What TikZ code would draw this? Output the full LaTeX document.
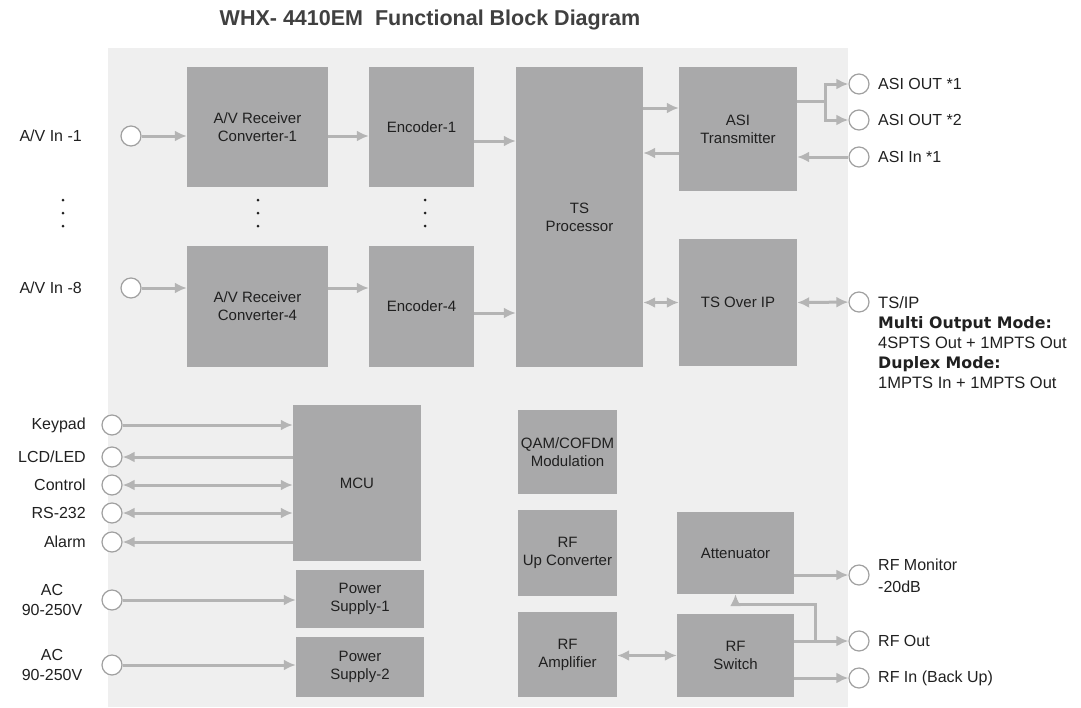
\documentclass[tikz,border=0pt]{standalone}
\usepackage{fontspec}
\setmainfont{Liberation Sans}
\newfontfamily\heavyfont{DejaVu Sans}
\usetikzlibrary{arrows.meta,calc}
\definecolor{panel}{HTML}{EFEFEF}
\definecolor{blkfill}{HTML}{A9A9AA}
\definecolor{linec}{HTML}{B4B4B4}
\definecolor{txt}{HTML}{202020}
\definecolor{titlec}{HTML}{404040}
\definecolor{circ}{HTML}{A0A0A0}
\begin{document}
\begin{tikzpicture}[x=1pt,y=-1pt,
 blk/.style={fill=blkfill, inner sep=0, align=center, font=\fontsize{15}{18}\selectfont, text=txt},
 port/.style={circle, draw=circ, fill=white, line width=1.2pt, minimum size=20pt, inner sep=0},
 arr/.style={draw=linec, line width=3pt, -{Latex[length=12pt,width=11pt]}},
 darr/.style={draw=linec, line width=3pt, {Latex[length=12pt,width=11pt]}-{Latex[length=12pt,width=11pt]}},
 lbl/.style={font=\fontsize{16}{20}\selectfont, text=txt, inner sep=0},
]
\useasboundingbox (0,0) rectangle (1081,707);
\fill[panel] (108,48) rectangle (848,707);

\node[font=\bfseries\fontsize{21.5}{24}\selectfont, text=titlec] (title) at (430,20) {WHX- 4410EM\ \ Functional Block Diagram};

% blocks
\node[blk, minimum width=141pt, minimum height=120pt] (avr1) at (257.5,127) {A/V Receiver\\Converter-1};
\node[blk, minimum width=105pt, minimum height=120pt] (enc1) at (421.5,127) {Encoder-1};
\node[blk, minimum width=127pt, minimum height=300pt] (ts) at (579.5,217) {TS\\Processor};
\node[blk, minimum width=141pt, minimum height=121pt] (avr4) at (257.5,306.5) {A/V Receiver\\Converter-4};
\node[blk, minimum width=105pt, minimum height=121pt] (enc4) at (421.5,306.5) {Encoder-4};
\node[blk, minimum width=118pt, minimum height=124pt] (asi) at (738,129) {ASI\\Transmitter};
\node[blk, minimum width=118pt, minimum height=127pt] (tsoip) at (738,302.5) {TS Over IP};
\node[blk, minimum width=128pt, minimum height=156pt] (mcu) at (357,483) {MCU};
\node[blk, minimum width=128pt, minimum height=58pt] (ps1) at (360,599) {Power\\Supply-1};
\node[blk, minimum width=128pt, minimum height=60pt] (ps2) at (360,667) {Power\\Supply-2};
\node[blk, minimum width=99pt, minimum height=84pt] (qam) at (567.5,452) {QAM/COFDM\\Modulation};
\node[blk, minimum width=99pt, minimum height=86pt] (rfup) at (567.5,553) {RF\\Up Converter};
\node[blk, minimum width=99pt, minimum height=85pt] (rfamp) at (567.5,654.5) {RF\\Amplifier};
\node[blk, minimum width=117pt, minimum height=82pt] (att) at (735.5,553) {Attenuator};
\node[blk, minimum width=117pt, minimum height=83pt] (rfsw) at (735.5,655.5) {RF\\Switch};

% ports
\node[port] (c1) at (131,136) {};
\node[port] (c8) at (131,288) {};
\node[port] (ao1) at (859,84) {};
\node[port] (ao2) at (859,120) {};
\node[port] (ai1) at (859,157) {};
\node[port] (tsip) at (859,302) {};
\node[port] (rfmon) at (859,575) {};
\node[port] (rfout) at (859,641) {};
\node[port] (rfin) at (859,678) {};
\node[port] (kp) at (112,425) {};
\node[port] (lcd) at (112,457) {};
\node[port] (ctl) at (112,485) {};
\node[port] (rs) at (112,513) {};
\node[port] (alm) at (112,542) {};
\node[port] (ac1) at (112,600) {};
\node[port] (ac2) at (112,665) {};

% labels
\node[lbl, anchor=east] (lav1) at (82,136) {A/V In -1};
\node[lbl, anchor=east] (lav8) at (82,288) {A/V In -8};
\node[lbl, anchor=east] (lkp) at (86,425) {Keypad};
\node[lbl, anchor=east] (llcd) at (86,457) {LCD/LED};
\node[lbl, anchor=east] (lctl) at (86,485) {Control};
\node[lbl, anchor=east] (lrs) at (86,513) {RS-232};
\node[lbl, anchor=east] (lalm) at (86,542) {Alarm};
\node[lbl, align=center] (lac1) at (52,600) {AC\\90-250V};
\node[lbl, align=center] (lac2) at (52,665) {AC\\90-250V};
\node[lbl, anchor=west] (lao1) at (878,84) {ASI OUT *1};
\node[lbl, anchor=west] (lao2) at (878,120) {ASI OUT *2};
\node[lbl, anchor=west] (lai1) at (878,157) {ASI In *1};
\node[lbl, anchor=north west, align=left, font=\fontsize{16.5}{20}\selectfont] (ltsip) at (878,296)
  {TS/IP\\{\heavyfont\bfseries\fontsize{15.8}{20}\selectfont Multi Output Mode:}\\4SPTS Out + 1MPTS Out\\{\heavyfont\bfseries\fontsize{15.8}{20}\selectfont Duplex Mode:}\\1MPTS In + 1MPTS Out};
\node[lbl, anchor=west, align=left, font=\fontsize{16}{22}\selectfont] (lrfmon) at (878,576) {RF Monitor\\-20dB};
\node[lbl, anchor=west] (lrfout) at (878,641) {RF Out};
\node[lbl, anchor=west] (lrfin) at (878,678) {RF In (Back Up)};

% dots
\foreach \dx in {63,258,425}{
  \foreach \dy in {200,213,226}{
    \fill[txt] (\dx,\dy) circle (1.5);
  }
}

% connectors
\draw[arr] (c1) -- (avr1.west |- c1);
\draw[arr] (avr1.east |- c1) -- (enc1.west |- c1);
\coordinate (e1o) at ([yshift=-14pt]enc1.east);
\draw[arr] (e1o) -- (ts.west |- e1o);
\draw[arr] (c8) -- (avr4.west |- c8);
\draw[arr] (avr4.east |- c8) -- (enc4.west |- c8);
\coordinate (e4o) at ([yshift=-6.5pt]enc4.east);
\draw[arr] (e4o) -- (ts.west |- e4o);

\coordinate (asiA) at ([yshift=21pt]asi.west);
\draw[arr] (ts.east |- asiA) -- (asiA);
\coordinate (asiB) at ([yshift=-24pt]asi.west);
\draw[arr] (asiB) -- (ts.east |- asiB);
\coordinate (asiC) at ([yshift=28pt]asi.east);
\coordinate (br) at ([xshift=28pt]asiC);
\draw[arr] (asiC) -- (br) |- (ao1);
\draw[arr] (br) |- (ao2);
\draw[arr] (ai1) -- (asi.east |- ai1);
\draw[darr] (ts.east |- tsoip) -- (tsoip.west);
\draw[darr] (tsoip.east) -- (tsip);

\draw[arr] (kp) -- (mcu.west |- kp);
\draw[arr] (mcu.west |- lcd) -- (lcd);
\draw[darr] (ctl) -- (mcu.west |- ctl);
\draw[darr] (rs) -- (mcu.west |- rs);
\draw[arr] (mcu.west |- alm) -- (alm);
\draw[arr] (ac1) -- (ps1.west |- ac1);
\draw[arr] (ac2) -- (ps2.west |- ac2);

\draw[darr] (rfamp.east |- rfsw) -- (rfsw.west);
\draw[arr] (att.east |- rfmon) -- (rfmon);
\draw[arr] (rfsw.east |- rfout) -- (rfout);
\coordinate (br2) at ([xshift=21pt]rfsw.east |- rfout);
\coordinate (attS) at ([yshift=-10pt]att.south);
\draw[arr] (br2) |- (attS) -- (att.south);
\draw[arr] (rfsw.east |- rfin) -- (rfin);
\end{tikzpicture}
\end{document}
